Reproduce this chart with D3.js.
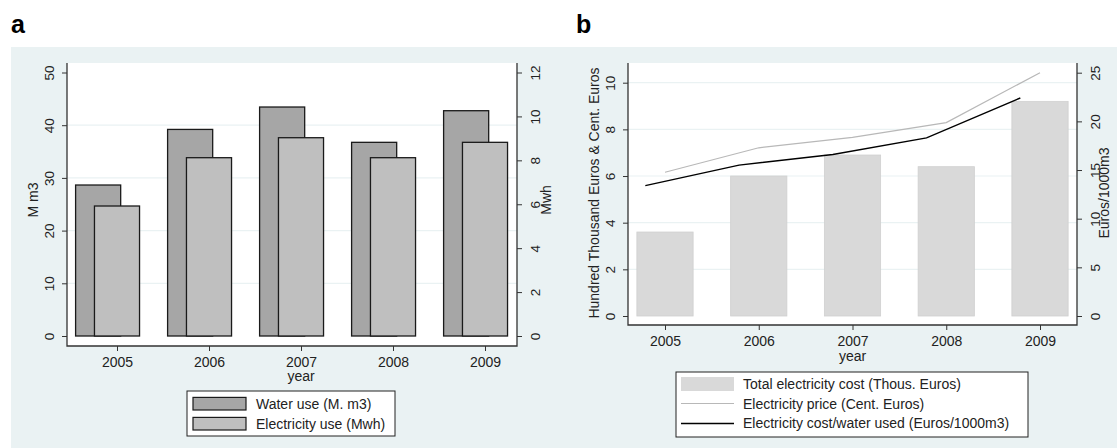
<!DOCTYPE html>
<html>
<head>
<meta charset="utf-8">
<script src="https://cdn.jsdelivr.net/npm/d3@7"></script>
<style>
    body { margin: 0; background: #fff; }
    svg text { font-family: "Liberation Sans", Arial, sans-serif; fill: #222; }
</style>
</head>
<body>
<div id="chart"></div>
<script>
// data
var years = [2005, 2006, 2007, 2008, 2009];
var waterUse = [28.65, 39.2, 43.45, 36.75, 42.75];      // M. m3 (left axis, panel a)
var elecUse = [5.92, 8.12, 9.03, 8.12, 8.82];           // Mwh (right axis, panel a)
var totalCost = [3.6, 6.0, 6.9, 6.4, 9.2];              // Thous. Euros (left axis, panel b)
var elecPrice = [6.16, 7.21, 7.66, 8.29, 10.43];        // Cent. Euros (left axis, panel b)
var costPerWater = [13.4, 15.5, 16.6, 18.3, 22.4];      // Euros/1000m3 (right axis, panel b)

var ticksA = [0, 10, 20, 30, 40, 50];
var ticksA2 = [0, 2, 4, 6, 8, 10, 12];
var ticksB = [0, 2, 4, 6, 8, 10];
var ticksB2 = [0, 5, 10, 15, 20, 25];

var bg = "#eaf2f3", axisCol = "#333";

var svg = d3.select("#chart").append("svg")
    .attr("width", 1117).attr("height", 448);

svg.append("rect").attr("x", 11).attr("y", 47).attr("width", 1106).attr("height", 401).attr("fill", bg);

svg.append("text").attr("x", 11).attr("y", 33).style("font-size", "25px").style("font-weight", "bold").style("fill", "#000").text("a");
svg.append("text").attr("x", 576).attr("y", 33).style("font-size", "25px").style("font-weight", "bold").style("fill", "#000").text("b");

// shared helpers
function leftAxis(g, scale, ticks, xPos) {
    var ax = g.append("g").attr("transform", "translate(" + xPos + ",0)")
        .call(d3.axisLeft(scale).tickValues(ticks).tickSize(5).tickFormat(d3.format("d")));
    ax.select(".domain").remove();
    ax.selectAll("line").attr("stroke", axisCol);
    ax.selectAll("text").attr("x", null).attr("dy", null)
        .attr("transform", "translate(-13,0) rotate(-90)")
        .attr("text-anchor", "middle").style("font-size", "13.5px");
}
function rightAxis(g, scale, ticks, xPos) {
    var ax = g.append("g").attr("transform", "translate(" + xPos + ",0)")
        .call(d3.axisRight(scale).tickValues(ticks).tickSize(5).tickFormat(d3.format("d")));
    ax.select(".domain").remove();
    ax.selectAll("line").attr("stroke", axisCol);
    ax.selectAll("text").attr("x", null).attr("dy", null)
        .attr("transform", "translate(23,0) rotate(-90)")
        .attr("text-anchor", "middle").style("font-size", "13.5px");
}
function bottomAxis(g, scale, yPos) {
    var ax = g.append("g").attr("transform", "translate(0," + yPos + ")")
        .call(d3.axisBottom(scale).tickValues(years).tickSize(5).tickPadding(6).tickFormat(d3.format("d")));
    ax.select(".domain").remove();
    ax.selectAll("line").attr("stroke", axisCol);
    ax.selectAll("text").style("font-size", "14px");
}
function vTitle(g, x, y, txt) {
    g.append("text").attr("transform", "translate(" + x + "," + y + ") rotate(-90)")
        .attr("text-anchor", "middle").style("font-size", "14px").text(txt);
}
function frame(g, x0, x1, y0, y1) {
    g.append("path").attr("fill", "none").attr("stroke", axisCol).attr("stroke-width", 1.3)
        .attr("d", "M" + x0 + "," + y0 + "V" + y1 + "H" + x1 + "V" + y0);
}

// ---------- panel a ----------
var pa = {l: 67, r: 517, t: 63, b: 346};
var xA = d3.scaleLinear().domain([2005, 2009]).range([117, 485]);
var yA = d3.scaleLinear().domain([0, 50]).range([336, 72.5]);
var yA2 = d3.scaleLinear().domain([0, 12]).range([336, 72.5]);
var ga = svg.append("g");

ga.append("rect").attr("x", pa.l).attr("y", pa.t).attr("width", pa.r - pa.l).attr("height", pa.b - pa.t).attr("fill", "#fff");
ga.selectAll(".gridA").data(ticksA.slice(1, -1)).enter().append("line")
    .attr("x1", pa.l).attr("x2", pa.r).attr("y1", yA).attr("y2", yA)
    .attr("stroke", bg).attr("stroke-width", 1.2);

var barW = 0.49, waterShift = -0.205;
ga.selectAll(".water").data(years).enter().append("rect")
    .attr("x", function(d) { return xA(d + waterShift - barW / 2); })
    .attr("width", function(d) { return xA(d + barW) - xA(d); })
    .attr("y", function(d, i) { return yA(waterUse[i]); })
    .attr("height", function(d, i) { return yA(0) - yA(waterUse[i]); })
    .attr("fill", "#a6a6a6").attr("stroke", "#1a1a1a").attr("stroke-width", 1.3);
ga.selectAll(".elec").data(years).enter().append("rect")
    .attr("x", function(d) { return xA(d - barW / 2); })
    .attr("width", function(d) { return xA(d + barW) - xA(d); })
    .attr("y", function(d, i) { return yA2(elecUse[i]); })
    .attr("height", function(d, i) { return yA2(0) - yA2(elecUse[i]); })
    .attr("fill", "#bfbfbf").attr("stroke", "#1a1a1a").attr("stroke-width", 1.3);

frame(ga, pa.l, pa.r, pa.t, pa.b);
leftAxis(ga, yA, ticksA, pa.l);
rightAxis(ga, yA2, ticksA2, pa.r);
bottomAxis(ga, xA, pa.b);
vTitle(ga, 38, 200, "M m3");
vTitle(ga, 551, 200, "Mwh");
ga.append("text").attr("x", xA(2007)).attr("y", 381).attr("text-anchor", "middle").style("font-size", "14px").text("year");

// legend a
var la = ga.append("g");
la.append("rect").attr("x", 187).attr("y", 391).attr("width", 208).attr("height", 45)
    .attr("fill", "#fff").attr("stroke", "#222").attr("stroke-width", 1);
[["Water use (M. m3)", "#a6a6a6"], ["Electricity use (Mwh)", "#bfbfbf"]].forEach(function(e, i) {
    var cy = 403.7 + i * 20;
    la.append("rect").attr("x", 193).attr("y", cy - 6.3).attr("width", 53).attr("height", 12.6)
        .attr("fill", e[1]).attr("stroke", "#1a1a1a").attr("stroke-width", 1.2);
    la.append("text").attr("x", 256).attr("y", cy + 5).style("font-size", "14px").text(e[0]);
});

// ---------- panel b ----------
var pb = {l: 628, r: 1077, t: 63, b: 325};
var xB = d3.scaleLinear().domain([2005, 2009]).range([665, 1040]);
var yB = d3.scaleLinear().domain([0, 10]).range([316, 82.7]);
var yB2 = d3.scaleLinear().domain([0, 25]).range([316, 72.7]);
var gb = svg.append("g");

gb.append("rect").attr("x", pb.l).attr("y", pb.t).attr("width", pb.r - pb.l).attr("height", pb.b - pb.t).attr("fill", "#fff");
gb.selectAll(".gridB").data(ticksB.slice(1)).enter().append("line")
    .attr("x1", pb.l).attr("x2", pb.r).attr("y1", yB).attr("y2", yB)
    .attr("stroke", bg).attr("stroke-width", 1.2);

var costW = 0.6;
gb.selectAll(".cost").data(years).enter().append("rect")
    .attr("x", function(d) { return xB(d - costW / 2); })
    .attr("width", function(d) { return xB(d + costW) - xB(d); })
    .attr("y", function(d, i) { return yB(totalCost[i]); })
    .attr("height", function(d, i) { return yB(0) - yB(totalCost[i]); })
    .attr("fill", "#d9d9d9").attr("stroke", "#d0d0d0").attr("stroke-width", 0.8);

var priceLine = d3.line().x(function(d) { return xB(d); })
    .y(function(d, i) { return yB(elecPrice[i]); });
gb.append("path").datum(years).attr("d", priceLine)
    .attr("fill", "none").attr("stroke", "#b8b8b8").attr("stroke-width", 1.2);

var lineShift = -0.21;
var ratioLine = d3.line().x(function(d) { return xB(d + lineShift); })
    .y(function(d, i) { return yB2(costPerWater[i]); });
gb.append("path").datum(years).attr("d", ratioLine)
    .attr("fill", "none").attr("stroke", "#000").attr("stroke-width", 1.4);

frame(gb, pb.l, pb.r, pb.t, pb.b);
leftAxis(gb, yB, ticksB, pb.l);
rightAxis(gb, yB2, ticksB2, pb.r);
bottomAxis(gb, xB, pb.b);
vTitle(gb, 599, 193, "Hundred Thousand Euros & Cent. Euros");
vTitle(gb, 1109, 193, "Euros/1000m3");
gb.append("text").attr("x", xB(2007)).attr("y", 361).attr("text-anchor", "middle").style("font-size", "14px").text("year");

// legend b
var lb = gb.append("g");
lb.append("rect").attr("x", 676).attr("y", 372).attr("width", 352).attr("height", 65)
    .attr("fill", "#fff").attr("stroke", "#222").attr("stroke-width", 1);
lb.append("rect").attr("x", 681).attr("y", 377).attr("width", 53).attr("height", 14).attr("fill", "#d9d9d9");
lb.append("line").attr("x1", 681).attr("x2", 734).attr("y1", 403.5).attr("y2", 403.5).attr("stroke", "#b8b8b8").attr("stroke-width", 1.2);
lb.append("line").attr("x1", 681).attr("x2", 734).attr("y1", 423.5).attr("y2", 423.5).attr("stroke", "#000").attr("stroke-width", 1.4);
["Total electricity cost (Thous. Euros)", "Electricity price (Cent. Euros)", "Electricity cost/water used (Euros/1000m3)"].forEach(function(t, i) {
    lb.append("text").attr("x", 743).attr("y", 389 + i * 19.7).style("font-size", "14px").text(t);
});
</script>
</body>
</html>
